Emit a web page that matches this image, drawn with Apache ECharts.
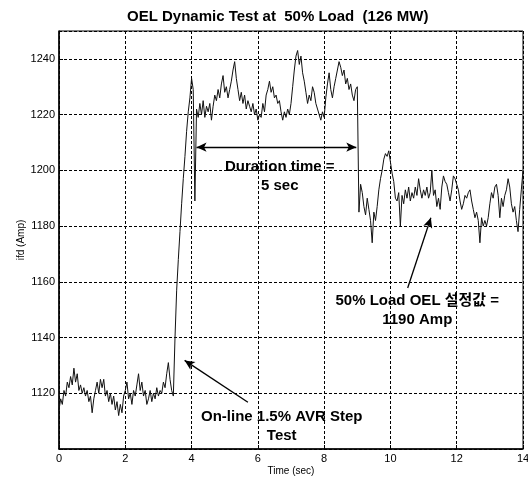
<!DOCTYPE html>
<html><head><meta charset="utf-8">
<script src="https://cdn.jsdelivr.net/npm/echarts@6/dist/echarts.min.js"></script>
<style>html,body{margin:0;padding:0;background:#fff;overflow:hidden}#c{width:528px;height:479px}</style>
</head><body><div id="c"></div>
<script>
const chartTitle = 'OEL Dynamic Test at  50% Load  (126 MW)';
const xName = 'Time (sec)';
const yName = 'ifd (Amp)';
const tStart = 0, tStep = 0.05;
// ifd samples every 0.05 s from 0 to 14 s
const ifd = [
  1114,1118,1116,1121,1119,1124,1122,1126,1123,1129,1124,1127,1121,1123,1120,1122,1119,1121,1117,1119,
  1113,1118,1121,1124,1120,1125,1122,1125,1119,1121,1117,1120,1116,1119,1114,1117,1112,1116,1113,1119,
  1121,1124,1118,1120,1116,1121,1119,1123,1127,1121,1124,1119,1121,1116,1118,1121,1117,1120,1118,1122,
  1119,1121,1120,1124,1122,1127,1131,1125,1121,1119,1140,1157,1168,1178,1188,1197,1205,1214,1221,1226,
  1233,1229,1189,1222,1219,1224,1220,1225,1219,1223,1221,1224,1218,1223,1227,1225,1229,1226,1231,1234,
  1228,1230,1226,1229,1232,1236,1239,1233,1229,1225,1228,1224,1227,1222,1225,1223,1221,1224,1220,1222,
  1218,1220,1219,1224,1221,1227,1229,1232,1228,1230,1226,1227,1224,1225,1221,1218,1221,1219,1222,1220,
  1224,1230,1236,1241,1243,1238,1241,1235,1232,1228,1224,1227,1225,1230,1228,1224,1222,1220,1218,1221,
  1219,1226,1231,1235,1229,1226,1230,1233,1236,1239,1237,1234,1236,1231,1233,1229,1231,1227,1225,1229,
  1230,1185,1195,1192,1187,1184,1190,1186,1182,1174,1185,1182,1187,1193,1197,1200,1204,1206,1205,1207,
  1203,1199,1196,1190,1189,1192,1180,1191,1188,1193,1190,1194,1189,1192,1190,1194,1191,1197,1193,1190,
  1193,1191,1194,1190,1192,1200,1191,1193,1187,1190,1186,1194,1198,1196,1195,1192,1189,1193,1198,1197,
  1195,1193,1189,1186,1188,1191,1190,1192,1193,1189,1186,1183,1185,1182,1174,1183,1180,1182,1180,1183,
  1188,1192,1190,1194,1195,1191,1183,1190,1187,1191,1193,1197,1194,1188,1185,1187,1182,1178,1186,1193,
  1200
];
const xRange = [0, 14], xStep = 2;
const yRange = [1100, 1250], yStep = 20;
const yHiddenLabel = 1100;

const notes = [
  {text: 'Duration time =\n5 sec', t: 6.66, v: 1198},
  {text: 'On-line 1.5% AVR Step\nTest', t: 6.72, v: 1108.3},
  {text: '50% Load OEL 설정값 =\n1190 Amp', t: 10.81, v: 1149.8}
];
const arrows = [
  {from: [4.15, 1208.3], to: [8.97, 1208.3], both: true},
  {from: [5.70, 1116.8], to: [3.79, 1131.8], both: false},
  {from: [10.52, 1157.8], to: [11.22, 1183.0], both: false}
];

const FONT = '"Liberation Sans", Arial, Helvetica, "Noto Sans CJK KR", sans-serif';
const points = ifd.map((v, i) => [+(tStart + i * tStep).toFixed(2), v]);

const chart = echarts.init(document.getElementById('c'), null, {renderer: 'canvas'});
chart.setOption({
  animation: false,
  backgroundColor: '#fff',
  title: {
    text: chartTitle, left: 122, top: 4,
    textStyle: {fontFamily: FONT, fontSize: 15, fontWeight: 'bold', color: '#000'}
  },
  grid: {left: 59, right: 5, top: 31, bottom: 30, outerBoundsMode: 'none', containLabel: false,
    show: true, borderColor: '#000', borderWidth: 1, backgroundColor: '#fff'},
  xAxis: {
    type: 'value', min: xRange[0], max: xRange[1], interval: xStep,
    name: xName, nameLocation: 'middle', nameGap: 17, nameMoveOverlap: false,
    nameTextStyle: {fontFamily: FONT, fontSize: 10, color: '#000'},
    axisLine: {show: true, onZero: false, lineStyle: {color: '#000', width: 1.5}},
    axisTick: {show: true, inside: true, length: 4, lineStyle: {color: '#000'}},
    axisLabel: {fontFamily: FONT, fontSize: 11, color: '#000', margin: 4},
    splitLine: {show: true, lineStyle: {color: '#000', type: [3, 2], width: 1}}
  },
  yAxis: {
    type: 'value', min: yRange[0], max: yRange[1], interval: yStep,
    name: yName, nameLocation: 'middle', nameGap: 33, nameMoveOverlap: false,
    nameTextStyle: {fontFamily: FONT, fontSize: 10, color: '#000'},
    axisLine: {show: true, onZero: false, lineStyle: {color: '#000', width: 1.5}},
    axisTick: {show: true, inside: true, length: 4, lineStyle: {color: '#000'}},
    axisLabel: {fontFamily: FONT, fontSize: 11, color: '#000', margin: 4, showMaxLabel: false,
      formatter: v => (v === yHiddenLabel ? '' : String(v))},
    splitLine: {show: true, lineStyle: {color: '#000', type: [3, 2], width: 1}}
  },
  series: [{
    type: 'line', data: points, showSymbol: false, symbol: 'none',
    lineStyle: {color: '#111', width: 1},
    silent: true,
    markLine: {
      silent: true, symbolSize: [7, 10], precision: 3,
      label: {show: false},
      lineStyle: {color: '#000', width: 1.3, type: 'solid'},
      emphasis: {disabled: true},
      data: arrows.map(a => [
        {coord: a.from, symbol: a.both ? 'arrow' : 'none'},
        {coord: a.to, symbol: 'arrow'}
      ])
    },
    markPoint: {
      silent: true,
      data: notes.map(n => ({
        coord: [n.t, n.v], symbol: 'circle', symbolSize: 1,
        itemStyle: {color: 'rgba(0,0,0,0)'},
        label: {show: true, position: 'inside', formatter: n.text, align: 'center',
          fontFamily: FONT, fontSize: 15, fontWeight: 'bold', color: '#000', lineHeight: 19}
      }))
    }
  }]
});
</script>
</body></html>
